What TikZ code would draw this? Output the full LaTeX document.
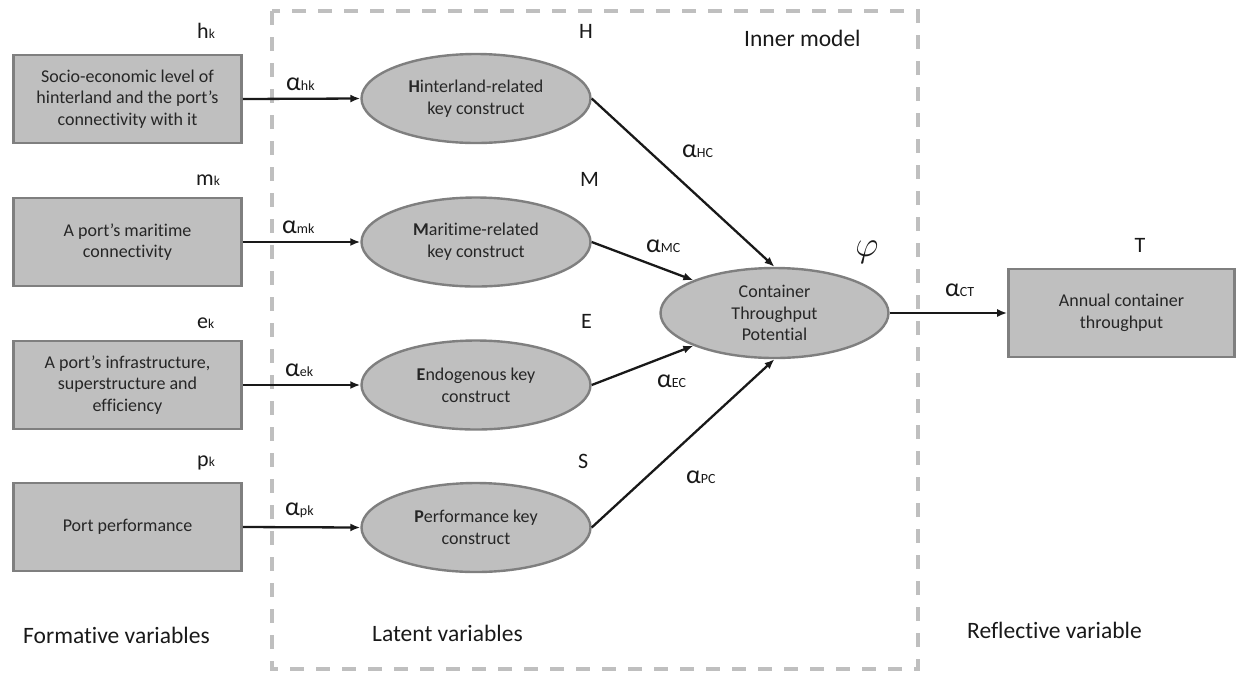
\RequirePackage{fix-cm}
\documentclass[tikz,border=0pt]{standalone}
\usepackage{fontspec}
\setmainfont{Carlito}[Ligatures={NoCommon,NoRare}]
\usetikzlibrary{shapes.geometric,arrows.meta}
\definecolor{boxfill}{RGB}{191,191,191}
\definecolor{boxline}{RGB}{127,127,127}
\definecolor{dashgray}{RGB}{191,191,191}
\definecolor{txt}{RGB}{38,38,38}
\newcommand\albl[1]{{\fontsize{26}{26}\selectfont α}{\fontsize{14}{14}\selectfont #1}}
\newcommand\vlbl[2]{{\fontsize{22}{22}\selectfont #1}{\fontsize{13.5}{13.5}\selectfont #2}}
\begin{document}
\begin{tikzpicture}[x=1pt,y=-1pt,
  fbox/.style={draw=boxline,fill=boxfill,line width=2.6pt,minimum width=228pt,minimum height=88pt,
    align=center,font=\fontsize{18}{21.7}\selectfont,text=txt,inner sep=0pt},
  lvar/.style={ellipse,draw=boxline,fill=boxfill,line width=2.4pt,minimum width=229pt,minimum height=89pt,
    align=center,font=\fontsize{18}{21.7}\selectfont,text=txt,inner sep=0pt},
  conn/.style={line width=2.3pt,draw=black!90,-{Latex[length=10pt,width=8pt]}},
  lbl/.style={inner sep=0pt,text=black!90},
  captxt/.style={inner sep=0pt,text=black!90,font=\fontsize{23.5}{23.5}\selectfont}]
\useasboundingbox (0,0) rectangle (1238,673);
% dashed inner model frame
\draw[dashgray,line width=3.5pt,dash pattern=on 14pt off 12pt] (272,11) rectangle (918,669);
% formative boxes
\node[fbox] (b1) at (127.5,99) {Socio-economic level of\\hinterland and the port’s\\connectivity with it};
\node[fbox] (b2) at (127.5,242) {A port’s maritime\\connectivity};
\node[fbox] (b3) at (127.5,385) {A port’s infrastructure,\\superstructure and\\efficiency};
\node[fbox] (b4) at (127.5,527) {Port performance};
% latent ellipses
\node[lvar] (H) at (476,98.5) {\textbf{H}interland-related\\key construct};
\node[lvar] (M) at (476,242) {\textbf{M}aritime-related\\key construct};
\node[lvar] (E) at (476,385) {\textbf{E}ndogenous key\\construct};
\node[lvar] (P) at (476,527.5) {\textbf{P}erformance key\\construct};
\node[lvar,minimum width=228pt,minimum height=90pt] (C) at (774.5,313) {Container\\Throughput\\Potential};
% reflective box
\node[fbox,minimum width=226pt] (T) at (1121.5,313) {Annual container\\throughput};
% connectors
\draw[conn] (b1.east) -- (H.west);
\draw[conn] (b2.east) -- (M.west);
\draw[conn] (b3.east) -- (E.west);
\draw[conn] (b4.east) -- (P.west);
\draw[conn] (H.east) -- (C.north);
\draw[conn] (M.east) -- (C.158);
\draw[conn] (E.east) -- (C.202);
\draw[conn] (P.east) -- (C.south);
\draw[conn] (C.east) -- (T.west);
% variable labels
\node[lbl,anchor=base west] (lh) at (197,38) {\vlbl{h}{k}};
\node[lbl,anchor=base west] (lm) at (196,185) {\vlbl{m}{k}};
\node[lbl,anchor=base west] (le) at (197,328) {\vlbl{e}{k}};
\node[lbl,anchor=base west] (lp) at (197,466) {\vlbl{p}{k}};
\node[lbl,anchor=base west] (ahk) at (286,90) {\albl{hk}};
\node[lbl,anchor=base west] (amk) at (282,233) {\albl{mk}};
\node[lbl,anchor=base west] (aek) at (285,376) {\albl{ek}};
\node[lbl,anchor=base west] (apk) at (285,515) {\albl{pk}};
\node[lbl,anchor=base west,font=\fontsize{22}{22}\selectfont] (lH) at (579,38) {H};
\node[lbl,anchor=base west,font=\fontsize{22}{22}\selectfont] (lM) at (580,186) {M};
\node[lbl,anchor=base west,font=\fontsize{22}{22}\selectfont] (lE) at (581,328) {E};
\node[lbl,anchor=base west,font=\fontsize{22}{22}\selectfont] (lS) at (578,468) {S};
\node[lbl,anchor=base,font=\fontsize{22}{22}\selectfont] (lT) at (1140,252) {T};
\node[lbl,font=\fontsize{36}{36}\selectfont] (phi) at (867,252) {$\varphi$};
\node[lbl,anchor=base west] (aHC) at (682,157) {\albl{HC}};
\node[lbl,anchor=base west] (aMC) at (646,252) {\albl{MC}};
\node[lbl,anchor=base west] (aEC) at (657,387) {\albl{EC}};
\node[lbl,anchor=base west] (aPC) at (686,483) {\albl{PC}};
\node[lbl,anchor=base west] (aCT) at (945,296) {\albl{CT}};
% captions
\node[captxt,anchor=base west] (inner) at (744,46) {Inner model};
\node[captxt,anchor=base west] (form) at (23,643) {Formative variables};
\node[captxt,anchor=base west] (lat) at (372,641) {Latent variables};
\node[captxt,anchor=base west] (refl) at (967,638) {Reflective variable};
\end{tikzpicture}
\end{document}
